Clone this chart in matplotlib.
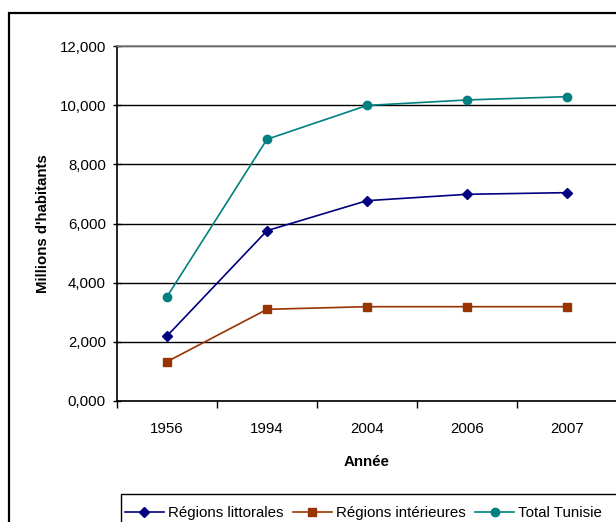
import matplotlib
matplotlib.use("Agg")
import matplotlib.pyplot as plt
from matplotlib.patches import Rectangle
from matplotlib.ticker import FuncFormatter, MultipleLocator

years = ["1956", "1994", "2004", "2006", "2007"]
littorales = [2197, 5758, 6772, 6987, 7043]
interieures = [1329, 3099, 3188, 3188, 3188]
total = [3526, 8847, 9990, 10176, 10288]

plt.rcParams['font.family'] = ['Liberation Sans', 'DejaVu Sans']
FS = 10.8

W, H = 616, 522
fig = plt.figure(figsize=(W / 100, H / 100), dpi=100)

# outer border
fig.patches.append(Rectangle((9 / W, -0.1), 1.2, (522 - 13) / H + 0.1, transform=fig.transFigure,
                             fill=False, edgecolor='black', linewidth=1.6))

ax = fig.add_axes([117 / W, (H - 401) / H, 500 / W, 355 / H])
x = list(range(len(years)))
ax.plot(x, littorales, color='#000080', marker='D', markersize=5.5, linewidth=1.2, label='Régions littorales')
ax.plot(x, interieures, color='#993300', marker='s', markersize=6, linewidth=1.2, label='Régions intérieures')
ax.plot(x, total, color='#008080', marker='o', markersize=6, linewidth=1.2, label='Total Tunisie')

ax.set_xlim(-0.5, len(years) - 0.5)
ax.set_ylim(0, 12000)
ax.yaxis.set_major_locator(MultipleLocator(2000))
ax.yaxis.set_major_formatter(FuncFormatter(lambda v, p: f"{v/1000:.0f},000" if v > 0 else "0,000"))
ax.set_xticks(x)
ax.set_xticklabels(years)
ax.set_xticks([i + 0.5 for i in range(-1, len(years))], minor=True)
ax.tick_params(axis='x', which='major', length=0, labelsize=FS, pad=15)
ax.tick_params(axis='x', which='minor', length=5, width=1, direction='out')
ax.tick_params(axis='y', length=6, width=1, direction='inout', labelsize=FS, pad=5)

ax.grid(axis='y', color='black', linewidth=1)
ax.set_axisbelow(True)
ax.spines['right'].set_visible(False)
ax.spines['top'].set_color('#808080')
ax.spines['top'].set_linewidth(1.2)
ax.spines['left'].set_linewidth(1.2)
ax.spines['bottom'].set_linewidth(1.2)

ax.set_xlabel('Année', fontsize=FS, fontweight='bold', labelpad=14)
ax.set_ylabel("Millions d'habitants", fontsize=FS, fontweight='bold', labelpad=7)

# legend frame (extends past the image edges like the reference)
fig.patches.append(Rectangle((121 / W, -0.1), 1.0, (H - 494) / H + 0.1, transform=fig.transFigure,
                             fill=False, edgecolor='black', linewidth=1))
leg = fig.legend(loc='upper left', bbox_to_anchor=(121 / W, (H - 502) / H), ncol=3, fontsize=FS,
                 frameon=False,
                 handlelength=2.6, handletextpad=0.3, columnspacing=0.6, borderpad=0.25,
                 borderaxespad=0)

fig.savefig('out.png', dpi=100)
